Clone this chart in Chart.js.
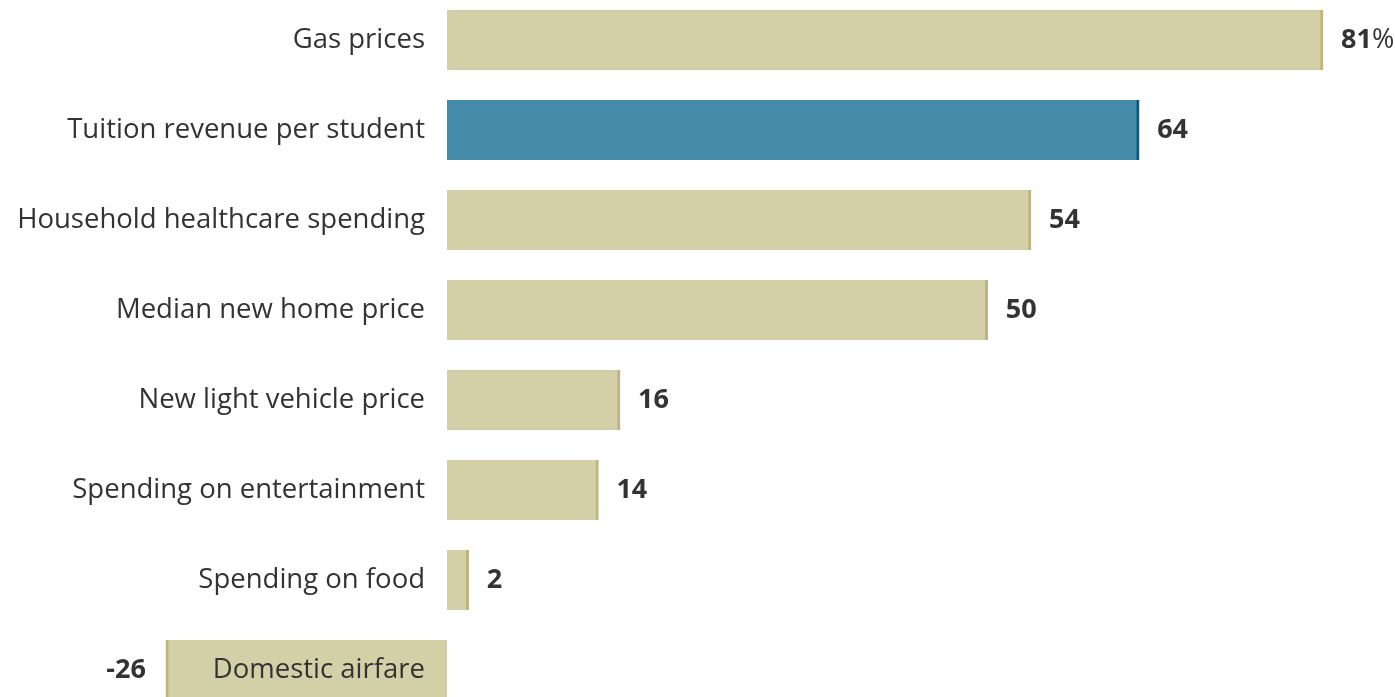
<!DOCTYPE html>
<html>
<head>
<meta charset="utf-8">
<script src="https://cdn.jsdelivr.net/npm/chart.js@4"></script>
<style>
  html, body { margin: 0; padding: 0; background: #fff; overflow: hidden; }
  canvas { display: block; }
</style>
</head>
<body>
<canvas id="plot-change" width="1395" height="697"></canvas>
<script>
let categories = [
    "Gas prices",
    "Tuition revenue per student",
    "Household healthcare spending",
    "Median new home price",
    "New light vehicle price",
    "Spending on entertainment",
    "Spending on food",
    "Domestic airfare"
];
let changes = [81, 64, 54, 50, 16, 14, 2, -26];
let highlight = "Tuition revenue per student";

const tan = "#d3cfa6";
const tanEdge = "#bcb57c";
const blue = "#468aaa";
const blueEdge = "#0c5a82";
const textFont = "'Open Sans', sans-serif";

let points = [];
for (let i = 0; i < changes.length; i++) {
    points.push({ x: changes[i], y: i });
}

// labels on the left of the zero line, values past the bar end
const labelPlugin = {
    id: "labels",
    afterDatasetsDraw(chart) {
        const ctx = chart.ctx;
        const xs = chart.scales.x;
        const ys = chart.scales.y;
        const zero = xs.getPixelForValue(0);
        ctx.save();
        ctx.textBaseline = "middle";
        for (let i = 0; i < categories.length; i++) {
            const y = ys.getPixelForValue(i);
            ctx.fillStyle = "#333";
            ctx.font = "400 27.5px " + textFont;
            ctx.textAlign = "right";
            ctx.fillText(categories[i], zero - 22, y);

            const end = xs.getPixelForValue(changes[i]);
            ctx.font = "700 27px " + textFont;
            if (changes[i] >= 0) {
                ctx.textAlign = "left";
                const txt = String(changes[i]);
                ctx.fillText(txt, end + 18, y);
                if (i === 0) {
                    const w = ctx.measureText(txt).width;
                    ctx.font = "400 27px " + textFont;
                    ctx.fillText("%", end + 18 + w, y);
                }
            } else {
                ctx.textAlign = "right";
                ctx.fillText(String(changes[i]), end - 20, y);
            }
        }
        ctx.restore();
    }
};

var ctx = document.getElementById("plot-change").getContext("2d");

var graph_data = new Chart(ctx, {
    type: "bar",
    data: {
        datasets: [{
            data: points,
            barThickness: 60,
            backgroundColor: function(c) {
                return categories[c.dataIndex] === highlight ? blue : tan;
            },
            borderColor: function(c) {
                return categories[c.dataIndex] === highlight ? blueEdge : tanEdge;
            },
            borderWidth: function(c) {
                return changes[c.dataIndex] >= 0 ? { right: 3 } : { left: 3 };
            },
            borderSkipped: false
        }]
    },
    options: {
        indexAxis: "y",
        responsive: false,
        animation: false,
        devicePixelRatio: 1,
        layout: { padding: 0 },
        plugins: {
            legend: { display: false },
            tooltip: { enabled: false }
        },
        scales: {
            x: {
                type: "linear",
                display: false,
                offset: false,
                min: -447 / (876 / 81),
                max: 948 / (876 / 81)
            },
            y: {
                type: "linear",
                display: false,
                offset: false,
                grace: 0,
                min: -40 / 90,
                max: 657 / 90,
                reverse: true
            }
        }
    },
    plugins: [labelPlugin]
});
</script>
</body>
</html>
